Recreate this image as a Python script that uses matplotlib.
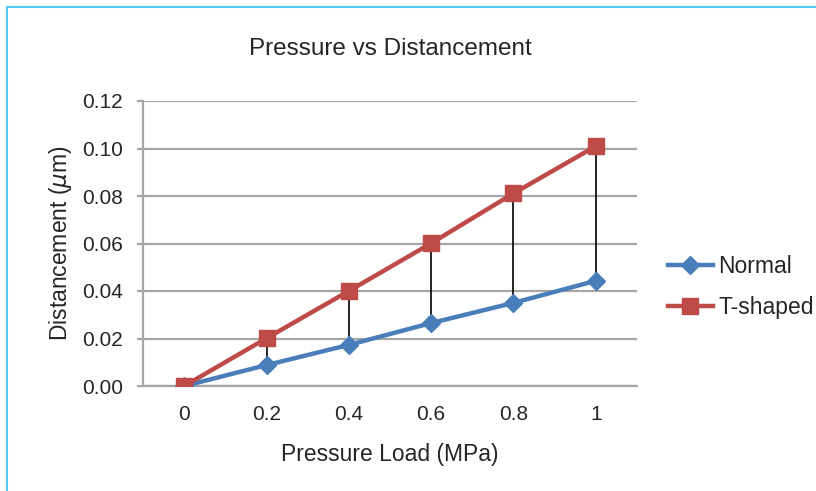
import matplotlib
matplotlib.use("Agg")
import matplotlib.pyplot as plt
from matplotlib.lines import Line2D

categories = ["0", "0.2", "0.4", "0.6", "0.8", "1"]
normal = [0.0, 0.0088, 0.0173, 0.0265, 0.0350, 0.0443]
t_shaped = [0.0, 0.0201, 0.0400, 0.0601, 0.0811, 0.1010]
yticks = [0.00, 0.02, 0.04, 0.06, 0.08, 0.10, 0.12]

plt.rcParams['font.family'] = ['Liberation Sans', 'DejaVu Sans']

fig = plt.figure(figsize=(8.16, 4.91), dpi=100)
W, H = 816, 491
ax = fig.add_axes([143 / W, 1 - 386 / H, (637 - 143) / W, (386 - 101) / H])

x = list(range(len(categories)))
# high-low lines
ax.vlines(x, normal, t_shaped, color='black', lw=1.2, zorder=2)
blue = '#4A7EBB'
red = '#BE4B48'
ax.plot(x, normal, color=blue, lw=3.2, marker='D', ms=9.5, mfc=blue, mec=blue, zorder=3, label='Normal')
ax.plot(x, t_shaped, color=red, lw=3.2, marker='s', ms=12, mfc=red, mec=red, zorder=4, label='T-shaped')

ax.set_xlim(-0.5, len(categories) - 0.5)
ax.set_ylim(0, 0.12)
ax.set_xticks(x)
ax.set_xticklabels(categories)
ax.set_yticks(yticks)
ax.set_yticklabels([f"{v:.2f}" for v in yticks])
ax.yaxis.grid(True, color='#A6A6A6', lw=1.6)
ax.set_axisbelow(True)
for s in ['top', 'right']:
    ax.spines[s].set_visible(False)
ax.spines['left'].set_color('#A6A6A6')
ax.spines['left'].set_linewidth(1.6)
ax.spines['bottom'].set_color('#A6A6A6')
ax.spines['bottom'].set_linewidth(1.6)
ax.tick_params(axis='x', length=0, pad=14, labelsize=15, colors='#262626')
ax.tick_params(axis='y', length=4.5, width=1.6, color='#A6A6A6', pad=10, labelsize=15, labelcolor='#262626')
ax.set_xlabel('Pressure Load (MPa)', fontsize=16.5, color='#262626', labelpad=13)
ax.set_ylabel(r'Distancement ($\mu$m)', fontsize=16.5, color='#262626', labelpad=6)
ax.set_title('Pressure vs Distancement', fontsize=17.5, color='#262626', pad=33)

leg = fig.legend(handles=[
    Line2D([], [], color=blue, lw=3.2, marker='D', ms=9.5, mfc=blue, mec=blue),
    Line2D([], [], color=red, lw=3.2, marker='s', ms=12, mfc=red, mec=red)],
    labels=['Normal', 'T-shaped'], loc='center left', bbox_to_anchor=(668 / W, 1 - 287 / H),
    frameon=False, fontsize=16.5, handlelength=1.95, handletextpad=0.25, labelspacing=0.75,
    borderpad=0, borderaxespad=0, labelcolor='#262626')

# cyan border
fig.add_artist(Line2D([7 / W, 7 / W], [0, 1 - 7 / H], color='#55C8F0', lw=1.5, transform=fig.transFigure))
fig.add_artist(Line2D([7 / W, 1], [1 - 7 / H, 1 - 7 / H], color='#55C8F0', lw=1.5, transform=fig.transFigure))

fig.savefig('out.png', dpi=100)
